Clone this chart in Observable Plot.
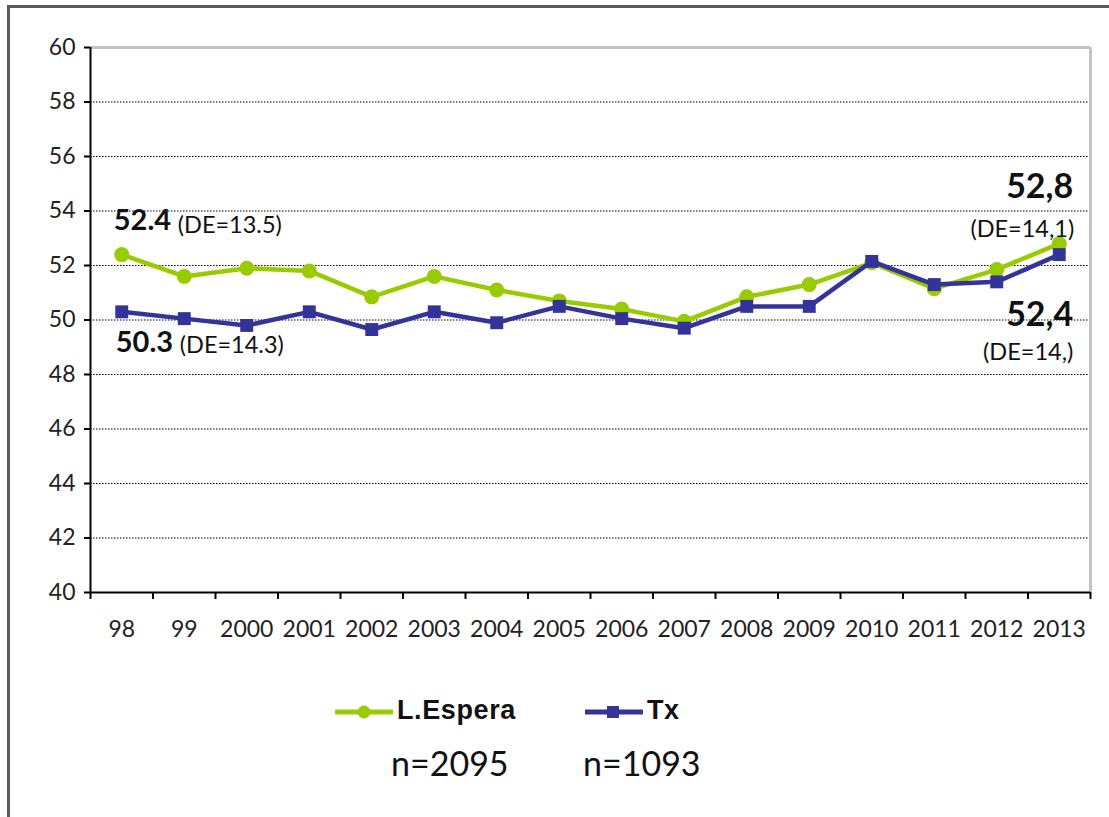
<!DOCTYPE html>
<html><head><meta charset="utf-8">
<script src="https://cdn.jsdelivr.net/npm/d3@7"></script>
<script src="https://cdn.jsdelivr.net/npm/@observablehq/plot@0.6"></script>
<style>
html,body{margin:0;padding:0;background:#fff;overflow:hidden}
#wrap{position:relative;width:1109px;height:817px;overflow:hidden;font-family:Lato,sans-serif;background:#fff}
#frame{position:absolute;left:7px;top:5px;width:1300px;height:1000px;border-top:3px solid #5a5a5a;border-left:3px solid #5a5a5a;box-sizing:border-box}
#chart{position:absolute;left:0;top:0}
.leg{position:absolute;white-space:nowrap}
.legname{font-family:"Liberation Sans",Arial,sans-serif;font-weight:bold;font-size:27px;color:#111;letter-spacing:0.6px}
.legn{font-family:Lato,sans-serif;font-size:34px;color:#111}
</style></head>
<body>
<div id="wrap"><div id="frame"></div><div id="chart"></div></div>
<script>
const years = ["98","99","2000","2001","2002","2003","2004","2005","2006","2007","2008","2009","2010","2011","2012","2013"];
const espera = [52.4,51.6,51.9,51.8,50.85,51.6,51.1,50.7,50.4,49.95,50.85,51.3,52.1,51.15,51.85,52.8];
const tx = [50.3,50.05,49.8,50.3,49.65,50.3,49.9,50.5,50.05,49.7,50.5,50.5,52.15,51.3,51.4,52.4];
const yTicks = [40,42,44,46,48,50,52,54,56,58,60];
const seriesNames = ["L.Espera","Tx"];
const sampleSizes = ["n=2095","n=1093"];
const seriesColors = ["#99cc00","#333399"];
const esperaStartLabels = ["52.4","(DE=13.5)"];
const txStartLabels = ["50.3","(DE=14.3)"];
const esperaEndLabels = ["52,8","(DE=14,1)"];
const txEndLabels = ["52,4","(DE=14,)"];

const rows = years.map((y,i)=>({i, year:y, espera:espera[i], tx:tx[i]}));
const first = [rows[0]], last = [rows[rows.length-1]];
const n = years.length;

const chart = Plot.plot({
  width:1109, height:680,
  marginLeft:90, marginRight:19, marginTop:47, marginBottom:88,
  style:{fontFamily:"Lato, sans-serif", color:"#222", background:"transparent"},
  x:{type:"linear", domain:[-0.5, n-0.5]},
  y:{domain:[40,60]},
  marks:[
    Plot.gridY(yTicks.slice(1,-1), {stroke:"#000", strokeOpacity:1, strokeDasharray:"1.5,1.5", strokeWidth:1}),
    Plot.ruleY([60], {stroke:"#c4c4c4", strokeWidth:3}),
    Plot.ruleX([n-0.5], {stroke:"#c4c4c4", strokeWidth:3}),
    Plot.axisY({ticks:yTicks, tickSize:6, tickPadding:9, fontSize:23, label:null, stroke:"#000", strokeWidth:2, fill:"#222"}),
    Plot.axisX({ticks:d3.range(n+1).map(i=>i-0.5), tickFormat:()=>"", tickSize:7, stroke:"#000", strokeWidth:2, label:null}),
    Plot.axisX({ticks:d3.range(n), tickFormat:i=>years[i], tickSize:0, tickPadding:28, fontSize:23, label:null, fill:"#222"}),
    Plot.ruleX([-0.5], {stroke:"#000", strokeWidth:2}),
    Plot.ruleY([40], {stroke:"#000", strokeWidth:2}),
    Plot.line(rows, {x:"i", y:"espera", stroke:seriesColors[0], strokeWidth:4.5}),
    Plot.dot(rows, {x:"i", y:"espera", r:7.5, fill:seriesColors[0], stroke:"none"}),
    Plot.line(rows, {x:"i", y:"tx", stroke:seriesColors[1], strokeWidth:4.5}),
    Plot.dot(rows, {x:"i", y:"tx", r:7.3, symbol:"square", fill:seriesColors[1], stroke:"none"}),
    Plot.text(first, {x:"i", y:"espera", text:()=>esperaStartLabels[0], textAnchor:"start", lineAnchor:"bottom", dx:-8, dy:-25, fontSize:29, fontWeight:"bold", fill:"#111"}),
    Plot.text(first, {x:"i", y:"espera", text:()=>esperaStartLabels[1], textAnchor:"start", lineAnchor:"bottom", dx:56, dy:-22, fontSize:23.5, fill:"#111"}),
    Plot.text(first, {x:"i", y:"tx", text:()=>txStartLabels[0], textAnchor:"start", lineAnchor:"bottom", dx:-6, dy:40, fontSize:29, fontWeight:"bold", fill:"#111"}),
    Plot.text(first, {x:"i", y:"tx", text:()=>txStartLabels[1], textAnchor:"start", lineAnchor:"bottom", dx:58, dy:41, fontSize:23.5, fill:"#111"}),
    Plot.text(last, {x:"i", y:"espera", text:()=>esperaEndLabels[0], textAnchor:"end", lineAnchor:"bottom", dx:14, dy:-46, fontSize:34, fontWeight:"bold", fill:"#111"}),
    Plot.text(last, {x:"i", y:"espera", text:()=>esperaEndLabels[1], textAnchor:"end", lineAnchor:"bottom", dx:15, dy:-7, fontSize:23.5, fill:"#111"}),
    Plot.text(last, {x:"i", y:"tx", text:()=>txEndLabels[0], textAnchor:"end", lineAnchor:"bottom", dx:14, dy:71, fontSize:34, fontWeight:"bold", fill:"#111"}),
    Plot.text(last, {x:"i", y:"tx", text:()=>txEndLabels[1], textAnchor:"end", lineAnchor:"bottom", dx:14, dy:105, fontSize:23.5, fill:"#111"})
  ]
});
document.getElementById("chart").appendChild(chart);

// legend below the chart
const wrap = document.getElementById("wrap");
const legX = [335, 585];
const nX = [391, 583];
seriesNames.forEach((name, k) => {
  const sw = document.createElementNS("http://www.w3.org/2000/svg","svg");
  sw.setAttribute("width", 58); sw.setAttribute("height", 16);
  sw.setAttribute("class","leg");
  sw.style.left = legX[k] + "px"; sw.style.top = "704px";
  const ln = document.createElementNS("http://www.w3.org/2000/svg","line");
  ln.setAttribute("x1",1); ln.setAttribute("x2",57); ln.setAttribute("y1",8); ln.setAttribute("y2",8);
  ln.setAttribute("stroke", seriesColors[k]); ln.setAttribute("stroke-width",5); ln.setAttribute("stroke-linecap","round");
  sw.appendChild(ln);
  let mk;
  if (k === 0) { mk = document.createElementNS("http://www.w3.org/2000/svg","circle"); mk.setAttribute("cx",29); mk.setAttribute("cy",8); mk.setAttribute("r",6.5); }
  else { mk = document.createElementNS("http://www.w3.org/2000/svg","rect"); mk.setAttribute("x",22); mk.setAttribute("y",2); mk.setAttribute("width",12); mk.setAttribute("height",12); }
  mk.setAttribute("fill", seriesColors[k]);
  sw.appendChild(mk);
  wrap.appendChild(sw);
  const t = document.createElement("div");
  t.className = "leg legname"; t.textContent = name;
  t.style.left = (legX[k] + 62) + "px"; t.style.top = "695px";
  wrap.appendChild(t);
  const s = document.createElement("div");
  s.className = "leg legn"; s.textContent = sampleSizes[k];
  s.style.left = nX[k] + "px"; s.style.top = "742px";
  wrap.appendChild(s);
});
</script>
</body></html>
